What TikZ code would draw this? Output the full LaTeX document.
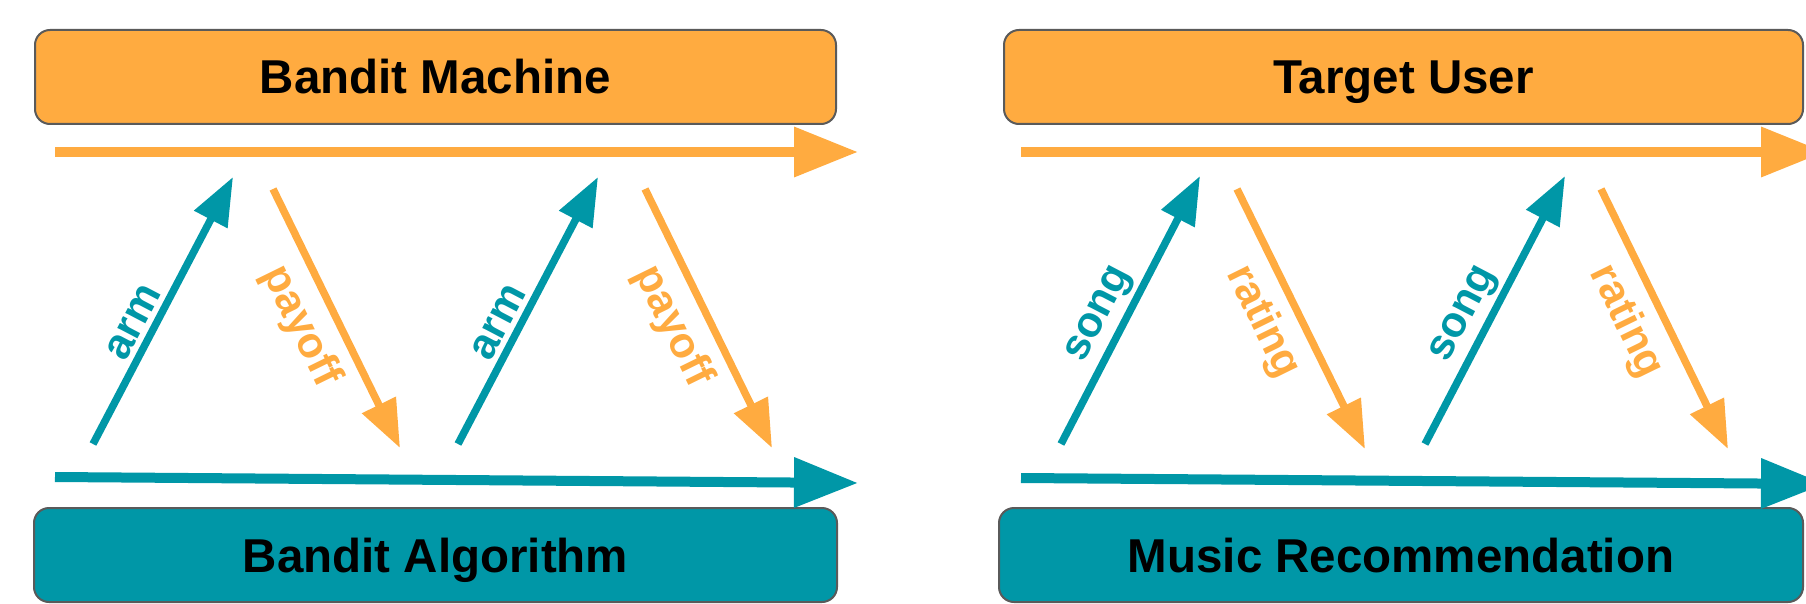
\documentclass[tikz,border=0pt]{standalone}
\usepackage{fontspec}
\setmainfont{Liberation Sans}
\usetikzlibrary{arrows.meta}

\definecolor{amber}{HTML}{FFAB40}
\definecolor{tealc}{HTML}{0097A7}
\definecolor{edgegray}{HTML}{5A5A5A}

\tikzset{
  panel/.style={draw=edgegray, line width=2pt, rounded corners=15pt,
    minimum height=94pt, inner sep=0pt, outer sep=0pt, text=black,
    text height=34pt, text depth=0pt,
    font=\fontsize{47.5}{57}\selectfont\bfseries},
  timeline/.style={line width=10pt, -{Triangle[length=64pt,width=48pt]}},
  msg/.style={line width=7.5pt, -{Triangle[length=48pt,width=36pt]}},
  lbl/.style={sloped, inner sep=0pt, font=\fontsize{43}{50}\selectfont\bfseries},
}

\begin{document}
\begin{tikzpicture}[x=1pt,y=-1pt]
\useasboundingbox (0,0) rectangle (1806,604);

% boxes
\node[panel, fill=amber, minimum width=801pt] (bm) at (435.5,77) {Bandit Machine};
\node[panel, fill=tealc, minimum width=803pt] (ba) at (435.5,555) {Bandit Algorithm};
\node[panel, fill=amber, minimum width=799pt] (tu) at (1403.5,77) {Target User};
\node[panel, fill=tealc, minimum width=804pt] (mr) at (1401,555) {Music Recommendation};

% end points of the time lines and messages
\coordinate (t1s) at (55,152);   \coordinate (t1e) at (858,152);
\coordinate (b1s) at (55,477);   \coordinate (b1e) at (858,483);
\coordinate (t2s) at (1021,152); \coordinate (t2e) at (1825,152);
\coordinate (b2s) at (1021,478); \coordinate (b2e) at (1825,484);

\coordinate (a1s) at (93,444);   \coordinate (a1e) at (233,177);
\coordinate (p1s) at (273,189);  \coordinate (p1e) at (400,448);
\coordinate (a2s) at (458,444);  \coordinate (a2e) at (598,177);
\coordinate (p2s) at (645,189);  \coordinate (p2e) at (772,448);
\coordinate (s1s) at (1061,444); \coordinate (s1e) at (1200,176);
\coordinate (r1s) at (1237,189); \coordinate (r1e) at (1365,449);
\coordinate (s2s) at (1425,444); \coordinate (s2e) at (1565,176);
\coordinate (r2s) at (1601,189); \coordinate (r2e) at (1728,449);

% time lines
\draw[timeline, amber] (t1s) -- (t1e);
\draw[timeline, tealc] (b1s) -- (b1e);
\draw[timeline, amber] (t2s) -- (t2e);
\draw[timeline, tealc] (b2s) -- (b2e);

% messages
\draw[msg, tealc] (a1s) -- node[lbl, pos=0.42, above=5pt, text=tealc] {arm} (a1e);
\draw[msg, amber] (p1s) -- node[lbl, pos=0.47, below=12pt, text=amber] {payoff} (p1e);
\draw[msg, tealc] (a2s) -- node[lbl, pos=0.42, above=5pt, text=tealc] {arm} (a2e);
\draw[msg, amber] (p2s) -- node[lbl, pos=0.47, below=12pt, text=amber] {payoff} (p2e);

\draw[msg, tealc] (s1s) -- node[lbl, pos=0.44, above=4pt, text=tealc] {song} (s1e);
\draw[msg, amber] (r1s) -- node[lbl, pos=0.45, below=12pt, text=amber] {rating} (r1e);
\draw[msg, tealc] (s2s) -- node[lbl, pos=0.44, above=4pt, text=tealc] {song} (s2e);
\draw[msg, amber] (r2s) -- node[lbl, pos=0.45, below=12pt, text=amber] {rating} (r2e);
\end{tikzpicture}
\end{document}
